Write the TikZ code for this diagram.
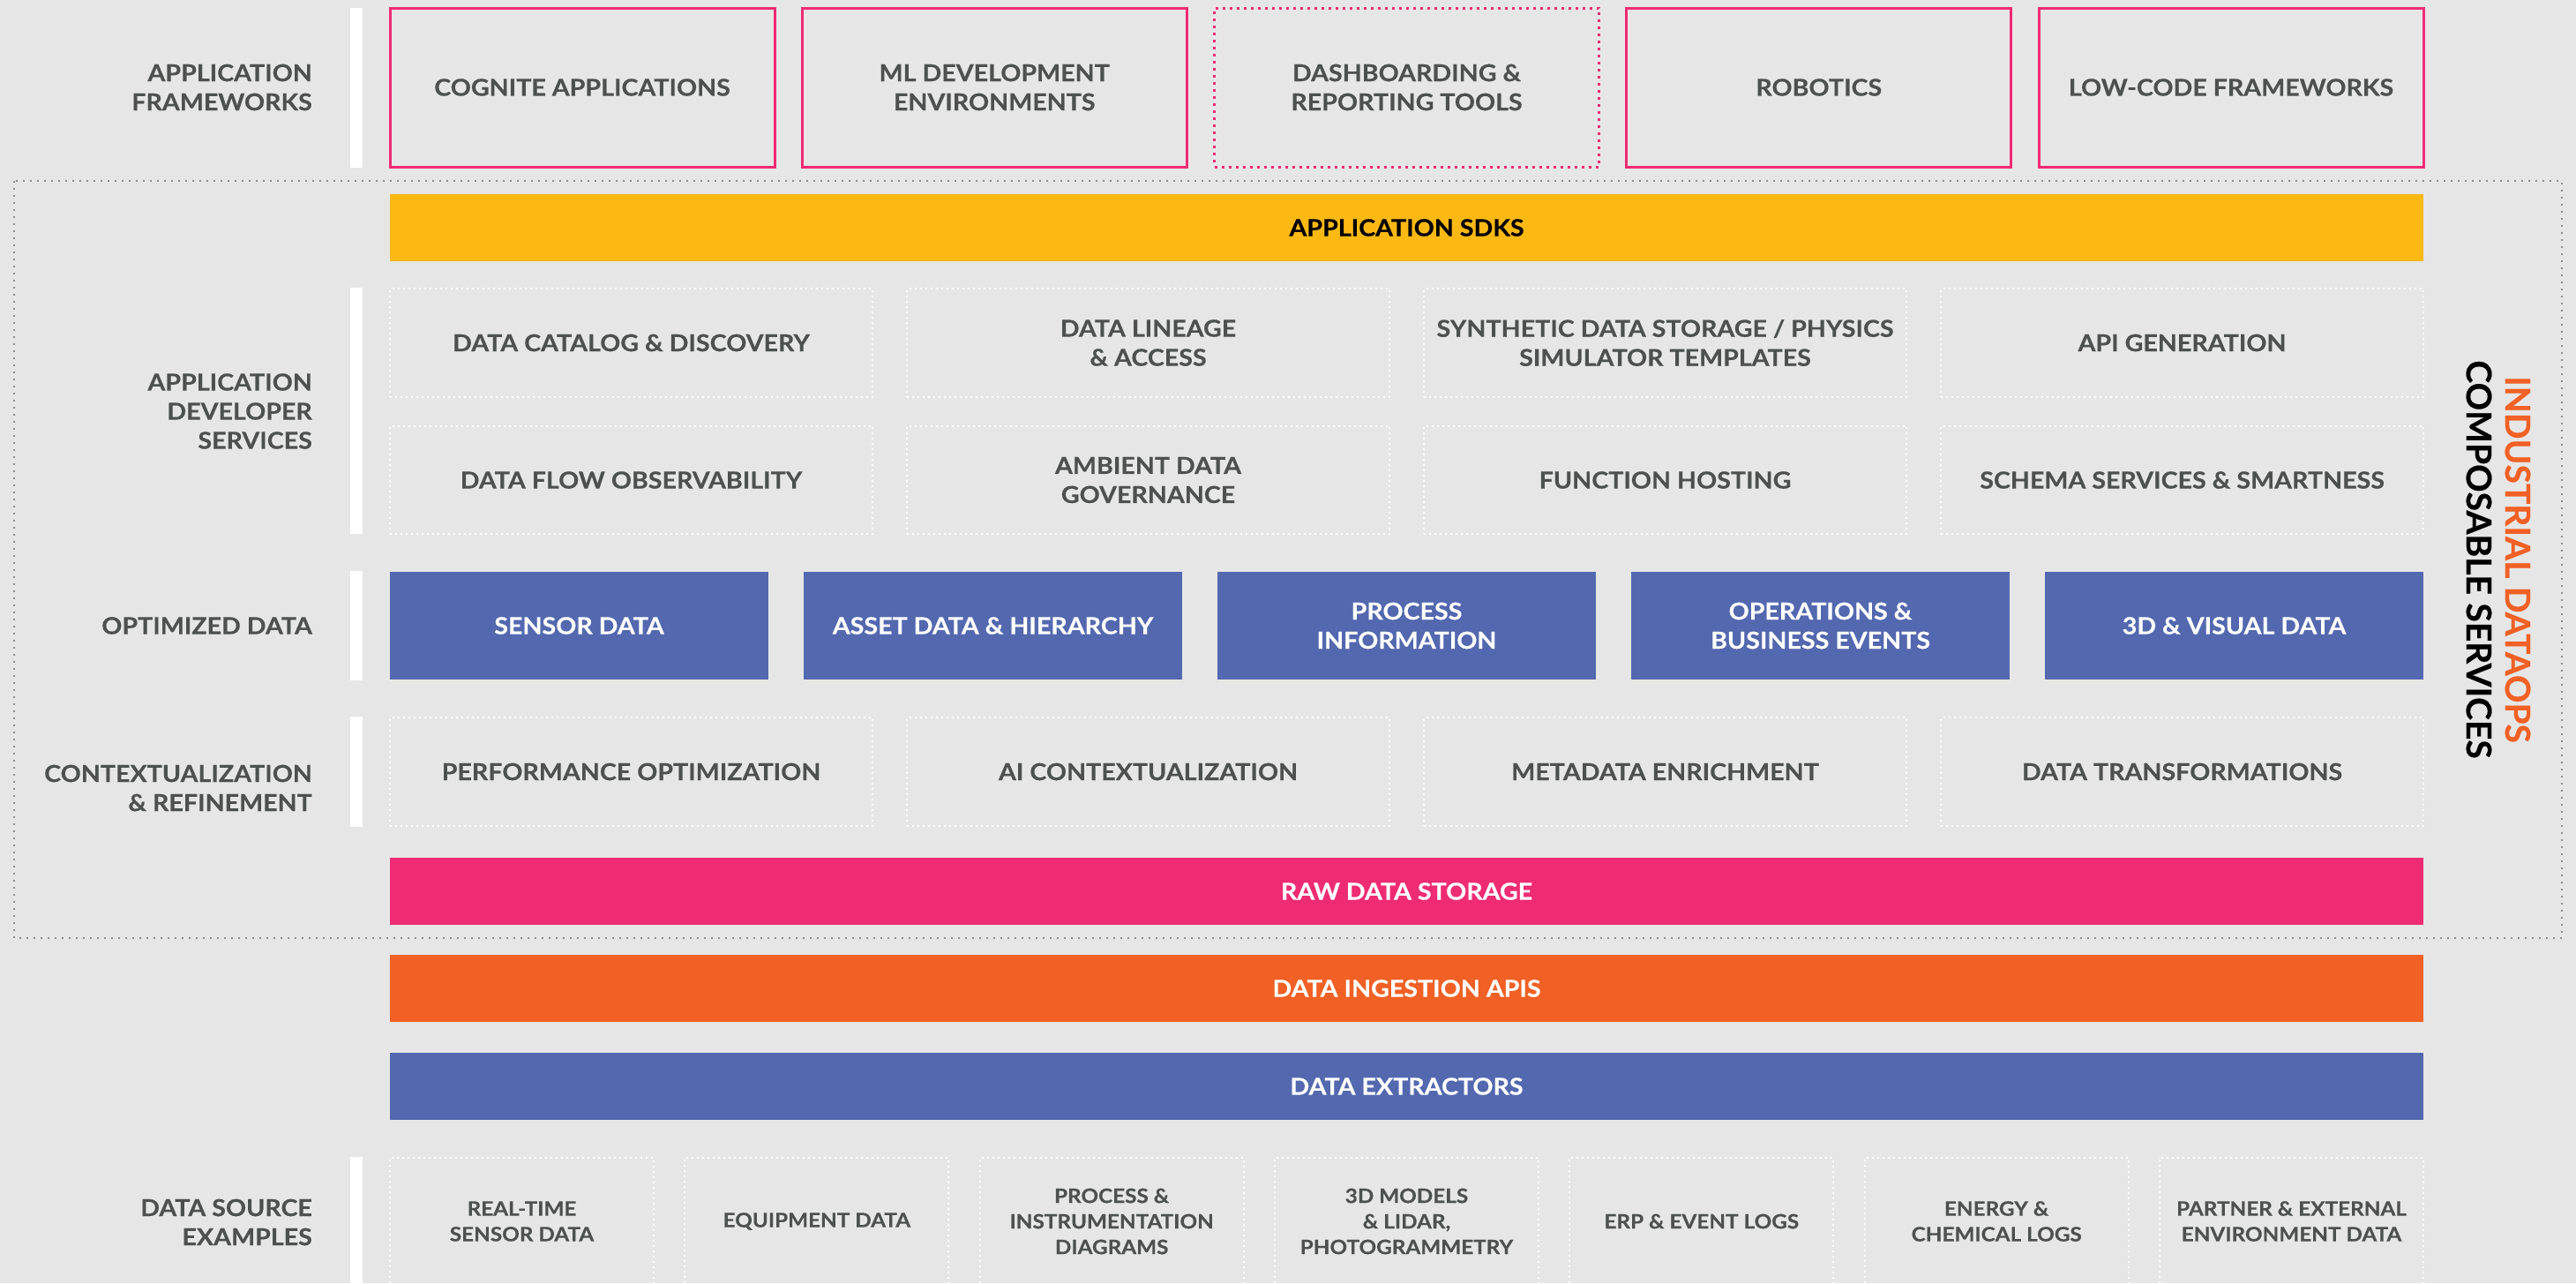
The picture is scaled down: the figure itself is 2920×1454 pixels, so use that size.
\documentclass[tikz,border=0pt]{standalone}
\usepackage{fontspec}
\setmainfont{Lato}[FakeStretch=1.08,BoldFeatures={FakeBold=0.4}]
\newfontfamily\titlefont{Lato}[BoldFeatures={FakeBold=0.4}]
\definecolor{bggray}{HTML}{E6E6E6}
\definecolor{txtgray}{HTML}{4E5050}
\definecolor{cogpink}{HTML}{EF2B73}
\definecolor{cogyellow}{HTML}{FDB913}
\definecolor{cogorange}{HTML}{F16024}
\definecolor{cogblue}{HTML}{5368AF}
\definecolor{framegray}{HTML}{8C8C8C}
\begin{document}
\begin{tikzpicture}[x=1pt,y=-1pt,
    every node/.style={inner sep=0pt,align=center,text=txtgray,
      font=\bfseries\fontsize{26.5}{33}\selectfont},
    rowlabel/.style={anchor=east,align=right},
    fw/.style={draw=cogpink,line width=3pt,minimum width=436pt,minimum height=180pt},
    fwdot/.style={fw,dash pattern=on 3pt off 5pt},
    svc/.style={draw=white,line width=2pt,dash pattern=on 2pt off 4pt,
      minimum width=547pt,minimum height=122.5pt},
    opt/.style={fill=cogblue,text=white,minimum width=429pt,minimum height=122pt},
    band/.style={minimum width=2305pt,minimum height=76pt,text=white},
    src/.style={svc,minimum width=299pt,minimum height=144pt,
      font=\bfseries\fontsize{22.5}{29}\selectfont},
    whitebar/.style={fill=white}]
  \fill[bggray] (0,0) rectangle (2920,1454);
  \useasboundingbox (0,0) rectangle (2920,1454);

  % composable services frame
  \draw[framegray,line width=2pt,dash pattern=on 2pt off 6pt] (16,205) rectangle (2904,1063);

  % white bars beside the row labels
  \fill[whitebar] (397,9) rectangle (411,190);
  \fill[whitebar] (397,326) rectangle (411,605);
  \fill[whitebar] (397,647) rectangle (411,771);
  \fill[whitebar] (397,812) rectangle (411,937);
  \fill[whitebar] (397,1311) rectangle (411,1460);

  % row labels
  \node[rowlabel] (lblfw) at (354,99) {APPLICATION\\FRAMEWORKS};
  \node[rowlabel] (lblsvc) at (354,466) {APPLICATION\\DEVELOPER\\SERVICES};
  \node[rowlabel] (lblopt) at (354,709) {OPTIMIZED DATA};
  \node[rowlabel] (lblctx) at (354,893) {CONTEXTUALIZATION\\\& REFINEMENT};
  \node[rowlabel] (lblsrc) at (354,1385) {DATA SOURCE\\EXAMPLES};

  % application frameworks
  \foreach \t/\s [count=\i from 0] in {{COGNITE APPLICATIONS}/fw,
      {ML DEVELOPMENT\\ENVIRONMENTS}/fw, {DASHBOARDING \&\\REPORTING TOOLS}/fwdot,
      {ROBOTICS}/fw, {LOW-CODE FRAMEWORKS}/fw}
    \node[\s] (fw\i) at (660+\i*467.25,99) {\t};

  \node[band,fill=cogyellow,text=black] (sdk) at (1594.5,258) {APPLICATION SDKS};

  % application developer services
  \foreach \t [count=\i from 0] in {DATA CATALOG \& DISCOVERY, DATA LINEAGE\\\& ACCESS,
      SYNTHETIC DATA STORAGE / PHYSICS\\SIMULATOR TEMPLATES, API GENERATION}
    \node[svc] (svc\i) at (715.5+\i*586,388.5) {\t};
  \foreach \t [count=\i from 4] in {DATA FLOW OBSERVABILITY, AMBIENT DATA\\GOVERNANCE,
      FUNCTION HOSTING, SCHEMA SERVICES \& SMARTNESS}
    \node[svc] (svc\i) at (715.5+\i*586-4*586,544) {\t};

  % optimized data
  \foreach \t [count=\i from 0] in {SENSOR DATA, ASSET DATA \& HIERARCHY,
      PROCESS\\INFORMATION, OPERATIONS \&\\BUSINESS EVENTS, 3D \& VISUAL DATA}
    \node[opt] (opt\i) at (656.5+\i*469,709) {\t};

  % contextualization & refinement
  \foreach \t [count=\i from 0] in {PERFORMANCE OPTIMIZATION, AI CONTEXTUALIZATION,
      METADATA ENRICHMENT, DATA TRANSFORMATIONS}
    \node[svc] (ctx\i) at (715.5+\i*586,874.5) {\t};

  \node[band,fill=cogpink] (raw) at (1594.5,1010) {RAW DATA STORAGE};
  \node[band,fill=cogorange] (ingest) at (1594.5,1120) {DATA INGESTION APIS};
  \node[band,fill=cogblue] (extract) at (1594.5,1231) {DATA EXTRACTORS};

  % data source examples
  \foreach \t [count=\i from 0] in {REAL-TIME\\SENSOR DATA, EQUIPMENT DATA,
      PROCESS \&\\INSTRUMENTATION\\DIAGRAMS, {3D MODELS\\\& LIDAR,\\PHOTOGRAMMETRY},
      ERP \& EVENT LOGS, ENERGY \&\\CHEMICAL LOGS, PARTNER \& EXTERNAL\\ENVIRONMENT DATA}
    \node[src] (src\i) at (591.5+\i*334.33,1384) {\t};

  % side title
  \node[rotate=-90,text=black,font=\titlefont\bfseries\fontsize{39}{44}\selectfont] (title) at (2832,634)
    {\textcolor{cogorange}{INDUSTRIAL DATAOPS}\\COMPOSABLE SERVICES};
\end{tikzpicture}
\end{document}
